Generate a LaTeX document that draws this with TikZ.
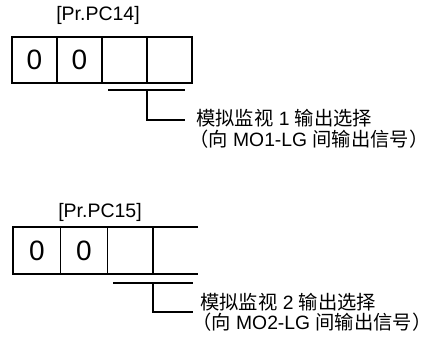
\documentclass[tikz,border=0pt]{standalone}
\usepackage{fontspec}
\setmainfont{Liberation Sans}
\newfontfamily\cjk{Noto Sans CJK SC}

\tikzset{
  frame/.style={draw=black, line width=1.2pt},
  parlabel/.style={font=\fontsize{19.5}{19.5}\selectfont, inner sep=0pt},
  digit/.style={font=\fontsize{28}{28}\selectfont, inner sep=0pt},
  note/.style={font=\fontsize{19.3}{19.3}\selectfont, anchor=west, inner sep=0pt},
}

\begin{document}
\begin{tikzpicture}[x=1pt,y=-1pt]
  \useasboundingbox (0,0) rectangle (436,338);

  % Pr.PC14
  \node[parlabel] (L14) at (98,15) {[Pr.PC14]};
  \draw[frame] (12,37) rectangle (192,83);
  \foreach \i in {57,102,147}
  {
    \draw[frame] (\i,37) -- (\i,83);
  }
  \node[digit] (D14a) at (34.5,60) {0};
  \node[digit] (D14b) at (79.5,60) {0};
  \draw[frame] (108,90) -- (185,90);
  \node[note] (N14a) at (196,118) {{\cjk 模拟监视} 1 {\cjk 输出选择}};
  \node[note] (N14b) at (189,139) {{\cjk （向} MO1-LG {\cjk 间输出信号）}};
  \coordinate (T14) at (147,90);
  \coordinate (E14) at (185,120);
  \draw[frame] (T14) |- (E14);

  % Pr.PC15
  \node[parlabel] (L15) at (100,212) {[Pr.PC15]};
  \draw[frame] (198,227) -- (13,227) -- (13,274) -- (198,274);
  \foreach \i in {60.5,107.5,153}
  {
    \draw[frame] (\i,227) -- (\i,274);
  }
  \node[digit] (D15a) at (37,250.5) {0};
  \node[digit] (D15b) at (84,250.5) {0};
  \draw[frame] (113,283) -- (193,283);
  \node[note] (N15a) at (200,302) {{\cjk 模拟监视} 2 {\cjk 输出选择}};
  \node[note] (N15b) at (192,322) {{\cjk （向} MO2-LG {\cjk 间输出信号）}};
  \coordinate (T15) at (153,283);
  \coordinate (E15) at (193,312);
  \draw[frame] (T15) |- (E15);
\end{tikzpicture}
\end{document}
